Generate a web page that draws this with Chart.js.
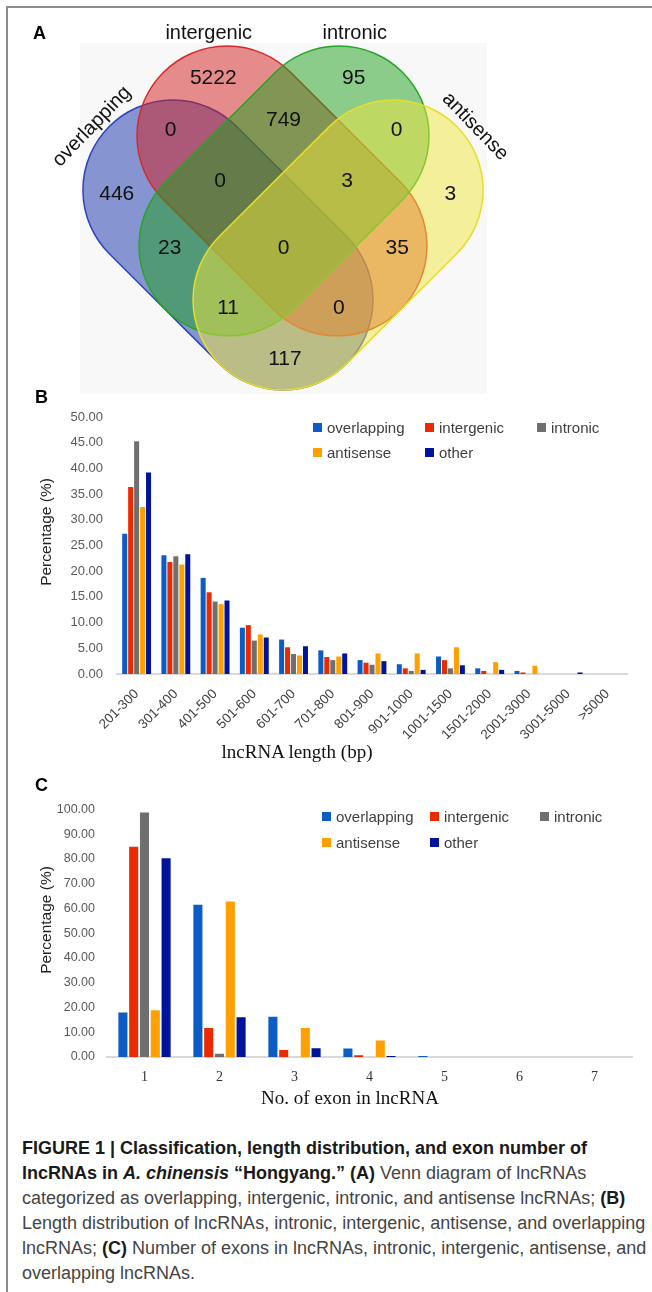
<!DOCTYPE html>
<html lang="en">
<head>
<meta charset="UTF-8">
<title>lncRNA classification, length and exon number</title>
<script src="https://cdn.jsdelivr.net/npm/chart.js@4.4.0/dist/chart.umd.min.js"></script>
<style>
  body { margin: 0; background: #fff; }
  #page { position: relative; width: 652px; height: 1292px; overflow: hidden; font-family: "Liberation Sans", Arial, sans-serif; }
  .frame-left { position: absolute; left: 6px; top: 6px; width: 2px; height: 1290px; background: #8c8c8c; }
  .frame-top { position: absolute; left: 6px; top: 6px; width: 646px; height: 2px; background: #8c8c8c; }
  canvas { position: absolute; left: 0; }
  .panel { position: absolute; font-weight: bold; font-size: 18px; line-height: 18px; color: #000; }
  .ytitle { position: absolute; font-size: 15.5px; color: #222; white-space: nowrap; transform: translate(-50%, -50%) rotate(-90deg); }
  .xtitle { position: absolute; font-family: "Liberation Serif", serif; font-size: 19px; color: #111; white-space: nowrap; transform: translate(-50%, -50%); }
  .lg { position: absolute; height: 18px; font-size: 15px; line-height: 18px; color: #404040; white-space: nowrap; }
  .lg .sw { position: absolute; left: 0; top: 4px; width: 9px; height: 9px; }
  .lg .tx { position: absolute; left: 14px; top: 0; }
  .caption { position: absolute; left: 22px; top: 1136px; font-family: "Liberation Sans", Arial, sans-serif; font-size: 18px; line-height: 25px; color: #444; white-space: nowrap; }
  .caption b { color: #1a1a1a; }
</style>
</head>
<body>
<div id="page">
  <div class="frame-left"></div>
  <div class="frame-top"></div>

  <canvas id="venn" width="652" height="390" style="top:10px"></canvas>
  <canvas id="chartB" width="652" height="355" style="top:395px"></canvas>
  <canvas id="chartC" width="652" height="300" style="top:790px"></canvas>

  <div class="panel" style="left:33px; top:24px">A</div>
  <div class="panel" style="left:35px; top:388px">B</div>
  <div class="panel" style="left:35px; top:776px">C</div>

  <div class="ytitle" style="left:46px; top:532px">Percentage (%)</div>
  <div class="xtitle" style="left:297px; top:752px">lncRNA length (bp)</div>
  <div class="ytitle" style="left:46px; top:920px">Percentage (%)</div>
  <div class="xtitle" style="left:350px; top:1098px">No. of exon in lncRNA</div>

  <div id="legendB"></div>
  <div id="legendC"></div>

  <div class="caption">
    <b>FIGURE 1 | Classification, length distribution, and exon number of</b><br>
    <b>lncRNAs in <i>A. chinensis</i> “Hongyang.” (A)</b> Venn diagram of lncRNAs<br>
    categorized as overlapping, intergenic, intronic, and antisense lncRNAs; <b>(B)</b><br>
    Length distribution of lncRNAs, intronic, intergenic, antisense, and overlapping<br>
    lncRNAs; <b>(C)</b> Number of exons in lncRNAs, intronic, intergenic, antisense, and<br>
    overlapping lncRNAs.
  </div>
</div>

<script>
// ---- data ----
const seriesNames = ['overlapping', 'intergenic', 'intronic', 'antisense', 'other'];
const seriesColors = ['#0b5cc4', '#ec2a00', '#6f6f6f', '#ffa000', '#00139b'];

// panel B: length distribution (%)
const lengthBins = ['201-300', '301-400', '401-500', '501-600', '601-700', '701-800', '801-900',
  '901-1000', '1001-1500', '1501-2000', '2001-3000', '3001-5000', '>5000'];
const overlappingLen = [27.3, 23.1, 18.7, 9.0, 6.7, 4.6, 2.7, 1.9, 3.4, 1.1, 0.6, 0, 0];
const intergenicLen  = [36.4, 21.8, 15.9, 9.5, 5.2, 3.3, 2.2, 1.1, 2.7, 0.6, 0.3, 0, 0];
const intronicLen    = [45.3, 22.9, 14.1, 6.5, 3.9, 2.7, 1.8, 0.6, 1.1, 0, 0, 0, 0];
const antisenseLen   = [32.5, 21.3, 13.6, 7.7, 3.6, 3.4, 4.0, 4.0, 5.2, 2.3, 1.6, 0, 0];
const otherLen       = [39.2, 23.3, 14.3, 7.1, 5.4, 4.0, 2.5, 0.8, 1.7, 0.8, 0, 0.3, 0];
const lengthTicks = [0, 5, 10, 15, 20, 25, 30, 35, 40, 45, 50];

// panel C: exon number (%)
const exonBins = ['1', '2', '3', '4', '5', '6', '7'];
const overlappingExon = [18.0, 61.5, 16.3, 3.4, 0.4, 0, 0];
const intergenicExon  = [85.0, 11.7, 2.8, 0.7, 0, 0, 0];
const intronicExon    = [98.8, 1.3, 0, 0, 0, 0, 0];
const antisenseExon   = [18.9, 62.8, 11.7, 6.7, 0, 0, 0];
const otherExon       = [80.3, 16.1, 3.5, 0.4, 0, 0, 0];
const exonTicks = [0, 10, 20, 30, 40, 50, 60, 70, 80, 90, 100];

// panel A: Venn counts
const vennSets = ['overlapping', 'intergenic', 'intronic', 'antisense'];
const vennRegions = ['overlapping', 'intergenic', 'intronic', 'antisense',
  'intergenic+intronic', 'overlapping+intergenic', 'intronic+antisense',
  'overlapping+intergenic+intronic', 'intergenic+intronic+antisense',
  'overlapping+intronic', 'intergenic+antisense', 'all four',
  'overlapping+intronic+antisense', 'overlapping+intergenic+antisense', 'overlapping+antisense'];
const vennCounts = [446, 5222, 95, 3, 749, 0, 0, 0, 3, 23, 35, 0, 11, 0, 117];

// ---- Venn layout (diagram units, 1 unit = side of the square) ----
const VENN_UNIT = 351;            // px per unit
const VENN_ORIGIN = [108, 384];   // canvas px of (0,0)
const vennBox = [-0.08, 0, 1.08, 1];
const vennLabelPos = [
  [0.025, 0.57], [0.30, 0.90], [0.70, 0.90], [0.975, 0.57],
  [0.50, 0.781], [0.178, 0.752], [0.822, 0.752],
  [0.319, 0.607], [0.681, 0.607],
  [0.176, 0.415], [0.824, 0.415], [0.50, 0.416],
  [0.342, 0.245], [0.658, 0.245], [0.504, 0.10]
];
// each set is a capsule: two cap centres and a radius
const vennShapes = [
  { p1: [0.185, 0.581], p2: [0.4986, 0.268], r: 0.2564, fill: 'rgba(20,50,170,0.5)',  line: '#2b46b8' },
  { p1: [0.339, 0.735], p2: [0.6524, 0.422], r: 0.2564, fill: 'rgba(210,30,30,0.5)',  line: '#d62a2a' },
  { p1: [0.6582, 0.735], p2: [0.3448, 0.422], r: 0.2564, fill: 'rgba(30,160,30,0.5)', line: '#25a525' },
  { p1: [0.8122, 0.581], p2: [0.4986, 0.268], r: 0.2564, fill: 'rgba(240,230,60,0.5)', line: '#e6de2c' }
];
const vennSetLabelPos = [[-0.046, 0.762, -46], [0.287, 1.028, 0], [0.703, 1.028, 0], [1.046, 0.762, 46]];

const vennPlugin = {
  id: 'venn',
  beforeDatasetsDraw(chart) {
    const { ctx, scales: { x, y } } = chart;
    const ux = x.getPixelForValue(1) - x.getPixelForValue(0);
    ctx.save();
    ctx.fillStyle = '#f8f8f8';
    const bx = x.getPixelForValue(vennBox[0]), by = y.getPixelForValue(vennBox[3]);
    const bw = x.getPixelForValue(vennBox[2]) - bx, bh = y.getPixelForValue(vennBox[1]) - by;
    ctx.fillRect(bx, by, bw, bh);
    vennShapes.forEach(s => {
      const x1 = x.getPixelForValue(s.p1[0]), y1 = y.getPixelForValue(s.p1[1]);
      const x2 = x.getPixelForValue(s.p2[0]), y2 = y.getPixelForValue(s.p2[1]);
      const r = s.r * ux;
      const t = Math.atan2(y2 - y1, x2 - x1);
      ctx.beginPath();
      ctx.arc(x2, y2, r, t - Math.PI / 2, t + Math.PI / 2);
      ctx.arc(x1, y1, r, t + Math.PI / 2, t + Math.PI * 1.5);
      ctx.closePath();
      ctx.fillStyle = s.fill;
      ctx.fill();
      ctx.strokeStyle = s.line;
      ctx.lineWidth = 1.5;
      ctx.stroke();
    });
    ctx.restore();
  },
  afterDatasetsDraw(chart) {
    const { ctx, scales: { x, y } } = chart;
    ctx.save();
    ctx.fillStyle = '#111';
    ctx.textAlign = 'center';
    ctx.textBaseline = 'middle';
    ctx.font = '20px "Liberation Sans", Arial, sans-serif';
    vennSets.forEach((name, i) => {
      const p = vennSetLabelPos[i];
      ctx.save();
      ctx.translate(x.getPixelForValue(p[0]), y.getPixelForValue(p[1]));
      ctx.rotate(p[2] * Math.PI / 180);
      ctx.fillText(name, 0, 0);
      ctx.restore();
    });
    ctx.font = '21px "Liberation Sans", Arial, sans-serif';
    chart.getDatasetMeta(0).data.forEach((pt, i) => {
      ctx.fillText(String(vennCounts[i]), pt.x, pt.y);
    });
    ctx.restore();
  }
};

new Chart(document.getElementById('venn'), {
  type: 'scatter',
  data: {
    labels: vennRegions,
    datasets: [{ data: vennLabelPos.map(p => ({ x: p[0], y: p[1] })), pointRadius: 0 }]
  },
  options: {
    responsive: false,
    animation: false,
    layout: { padding: 0 },
    plugins: { legend: { display: false }, tooltip: { enabled: false } },
    scales: {
      x: { type: 'linear', display: false, min: -VENN_ORIGIN[0] / VENN_UNIT, max: (652 - VENN_ORIGIN[0]) / VENN_UNIT },
      y: { type: 'linear', display: false, min: -(390 - VENN_ORIGIN[1]) / VENN_UNIT, max: VENN_ORIGIN[1] / VENN_UNIT }
    }
  },
  plugins: [vennPlugin]
});

// ---- bar charts ----
function makeBars(id, labels, series, ticks, opt) {
  return new Chart(document.getElementById(id), {
    type: 'bar',
    data: {
      labels: labels,
      datasets: series.map((d, i) => ({
        label: seriesNames[i],
        data: d,
        backgroundColor: seriesColors[i],
        borderWidth: 0,
        categoryPercentage: opt.catPct,
        barPercentage: opt.barPct
      }))
    },
    options: {
      responsive: false,
      animation: false,
      layout: { padding: { top: opt.padTop, right: opt.padRight, left: 0, bottom: 0 } },
      plugins: { legend: { display: false }, tooltip: { enabled: false } },
      scales: {
        x: {
          grid: { display: false, drawTicks: false },
          border: { color: '#d9d9d9', width: 2 },
          ticks: opt.xTicks,
          afterFit(s) { s.height = opt.xHeight; }
        },
        y: {
          min: ticks[0],
          max: ticks[ticks.length - 1],
          afterBuildTicks(s) { s.ticks = ticks.map(v => ({ value: v })); },
          grid: { display: false, drawTicks: false },
          border: { display: false },
          ticks: {
            padding: opt.yPad,
            color: '#595959',
            font: { size: opt.ySize, family: '"Liberation Sans", Arial, sans-serif' },
            callback: v => Number(v).toFixed(2)
          },
          afterFit(s) { s.width = opt.yWidth; }
        }
      }
    }
  });
}

makeBars('chartB', lengthBins,
  [overlappingLen, intergenicLen, intronicLen, antisenseLen, otherLen], lengthTicks, {
    catPct: 0.76, barPct: 0.84, padTop: 22, padRight: 25, xHeight: 76, yWidth: 117, yPad: 14, ySize: 13,
    xTicks: { autoSkip: false, maxRotation: 45, minRotation: 45, padding: 12, color: '#404040',
      font: { size: 13.5, family: '"Liberation Sans", Arial, sans-serif' } }
  });

makeBars('chartC', exonBins,
  [overlappingExon, intergenicExon, intronicExon, antisenseExon, otherExon], exonTicks, {
    catPct: 0.72, barPct: 0.84, padTop: 17, padRight: 20, xHeight: 33, yWidth: 107, yPad: 12, ySize: 12.5,
    xTicks: { autoSkip: false, maxRotation: 0, padding: 12, color: '#333',
      font: { size: 14, family: '"Liberation Serif", serif' } }
  });

// ---- HTML legends ----
function makeLegend(id, cols, rows) {
  const box = document.getElementById(id);
  seriesNames.forEach((name, i) => {
    const el = document.createElement('div');
    el.className = 'lg';
    el.style.left = cols[i % 3] + 'px';
    el.style.top = (rows[Math.floor(i / 3)] - 9) + 'px';
    el.innerHTML = '<span class="sw" style="background:' + seriesColors[i] + '"></span><span class="tx">' + name + '</span>';
    box.appendChild(el);
  });
}
makeLegend('legendB', [313, 425, 537], [428, 453]);
makeLegend('legendC', [322, 430, 540], [817, 843]);
</script>
</body>
</html>
